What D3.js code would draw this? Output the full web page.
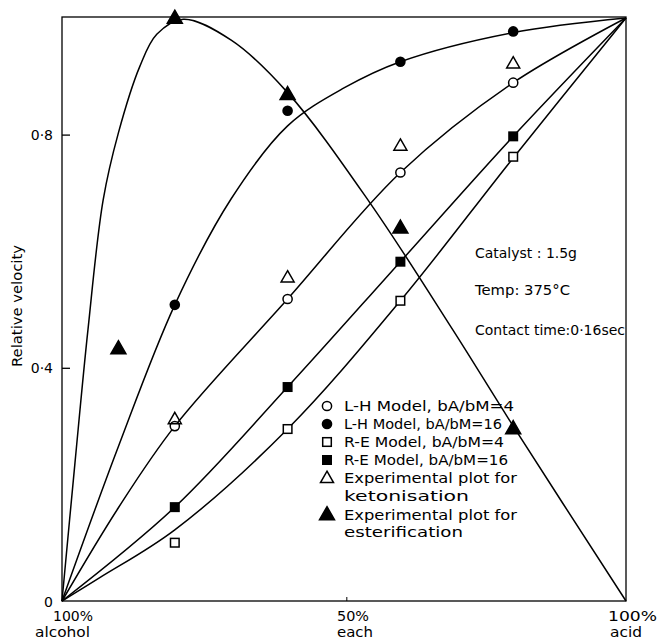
<!DOCTYPE html>
<html><head><meta charset="utf-8">
<script src="https://cdn.jsdelivr.net/npm/d3@7"></script>
<style>
html,body{margin:0;padding:0;background:#fff;}
text{font-family:"DejaVu Sans","Noto Sans",sans-serif;fill:#000;}
</style></head>
<body>
<svg id="c" width="657" height="641"></svg>
<script>
// ---- data ----
const yTicks = [0, 0.4, 0.8];
const yTickLabels = ["0", "0·4", "0·8"];
const xLabels = [["100%", "alcohol"], ["50%", "each"], ["100%", "acid"]];

// model / experimental points (x = fraction acid, y = relative velocity)
const lh4Pts  = [[0.2,0.30],[0.4,0.518],[0.6,0.735],[0.8,0.889]];
const lh16Pts = [[0.2,0.508],[0.4,0.841],[0.6,0.925],[0.8,0.977]];
const re4Pts  = [[0.2,0.10],[0.4,0.295],[0.6,0.515],[0.8,0.762]];
const re16Pts = [[0.2,0.161],[0.4,0.367],[0.6,0.582],[0.8,0.797]];
const ketoPts = [[0.2,0.312],[0.4,0.555],[0.6,0.781],[0.8,0.922]];
const esterPts= [[0.1,0.433],[0.2,1.0],[0.4,0.869],[0.6,0.64],[0.8,0.296]];

// drawn curves
const lh4Curve  = [[0,0],[0.1,0.16],[0.2,0.30],[0.4,0.518],[0.6,0.735],[0.8,0.889],[1,1]];
const lh16Curve = [[0,0],[0.1,0.265],[0.2,0.508],[0.3,0.69],[0.4,0.815],[0.5,0.88],[0.6,0.925],[0.8,0.975],[1,1]];
const re4Curve  = [[0,0],[0.067,0.04],[0.2,0.122],[0.4,0.295],[0.6,0.515],[0.8,0.76],[1,1]];
const re16Curve = [[0,0],[0.2,0.161],[0.4,0.367],[0.6,0.582],[0.8,0.797],[1,1]];
const esterCurve= [[0,0],[0.023,0.237],[0.046,0.465],[0.073,0.688],[0.1,0.803],[0.138,0.917],[0.168,0.972],[0.215,0.998],[0.3,0.962],[0.4,0.872],[0.546,0.683],[0.693,0.465],[0.8,0.30],[1,0]];

const legendItems = [
  ["circleOpen", ["L-H Model, bA/bM=4"], [170]],
  ["circleFill", ["L-H Model, bA/bM=16"], [158]],
  ["squareOpen", ["R-E Model, bA/bM=4"], [160]],
  ["squareFill", ["R-E Model, bA/bM=16"], [164]],
  ["triOpen", ["Experimental plot for", "ketonisation"], [173,125]],
  ["triFill", ["Experimental plot for", "esterification"], [173,119]]
];
const notes = ["Catalyst : 1.5g", "Temp: 375°C", "Contact time:0·16sec"];

// ---- drawing ----
const svg = d3.select("#c");
const L = 62, R = 626, T = 17, B = 601;
const x = d3.scaleLinear().domain([0,1]).range([L,R]);
const y = d3.scaleLinear().domain([0,1]).range([B,18]);

// frame
svg.append("rect").attr("x",L).attr("y",T).attr("width",R-L).attr("height",B-T)
  .attr("fill","none").attr("stroke","#000").attr("stroke-width",1.3);

// y axis ticks (inside)
const yAxis = d3.axisRight(y).tickValues(yTicks.slice(1)).tickSize(8).tickFormat("");
svg.append("g").attr("transform",`translate(${L},0)`).call(yAxis)
  .call(g=>g.select(".domain").remove())
  .call(g=>g.selectAll("line").attr("stroke","#000").attr("stroke-width",1.3));
yTicks.forEach((v,i)=>{
  svg.append("text").attr("x",53).attr("y",v===0?607:y(v)+5).attr("text-anchor","end")
    .attr("font-size",14).text(yTickLabels[i]);
});
// small x tick at 50%
svg.append("line").attr("x1",x(0.505)).attr("x2",x(0.505)).attr("y1",B).attr("y2",B-4)
  .attr("stroke","#000").attr("stroke-width",1);

// y label
svg.append("text").attr("transform",`translate(22,306) rotate(-90)`).attr("text-anchor","middle")
  .attr("font-size",14).attr("textLength",122).attr("lengthAdjust","spacingAndGlyphs").text("Relative velocity");

// x labels: [x1, width1, x2, width2]
const xl = [[53,40,35,55],[337,32,337,36],[608,49,610,32]];
xLabels.forEach((lab,i)=>{
  svg.append("text").attr("x",xl[i][0]).attr("y",621).attr("font-size",14)
    .attr("textLength",xl[i][1]).attr("lengthAdjust","spacingAndGlyphs").text(lab[0]);
  svg.append("text").attr("x",xl[i][2]).attr("y",637).attr("font-size",14)
    .attr("textLength",xl[i][3]).attr("lengthAdjust","spacingAndGlyphs").text(lab[1]);
});

// curves
const line = d3.line().x(d=>x(d[0])).y(d=>y(d[1])).curve(d3.curveCatmullRom.alpha(0.5));
[lh4Curve,lh16Curve,re4Curve,re16Curve,esterCurve].forEach(c=>{
  svg.append("path").attr("d",line(c)).attr("fill","none").attr("stroke","#000").attr("stroke-width",1.5);
});

// markers
function marker(g, type, cx, cy){
  const sw = 1.5;
  if(type==="circleOpen") g.append("circle").attr("cx",cx).attr("cy",cy).attr("r",4.6).attr("fill","#fff").attr("stroke","#000").attr("stroke-width",sw);
  if(type==="circleFill") g.append("circle").attr("cx",cx).attr("cy",cy).attr("r",5.3).attr("fill","#000");
  if(type==="squareOpen") g.append("rect").attr("x",cx-4.3).attr("y",cy-4.3).attr("width",8.6).attr("height",8.6).attr("fill","#fff").attr("stroke","#000").attr("stroke-width",sw);
  if(type==="squareFill") g.append("rect").attr("x",cx-5).attr("y",cy-5).attr("width",10).attr("height",10).attr("fill","#000");
  if(type==="triOpen"||type==="triFill"){
    const s = type==="triFill"?15:13, h = s*0.87;
    const p = [[cx,cy-h*0.6],[cx+s/2,cy+h*0.4],[cx-s/2,cy+h*0.4]];
    g.append("path").attr("d","M"+p.map(d=>d.join(",")).join("L")+"Z")
      .attr("fill",type==="triFill"?"#000":"none").attr("stroke","#000").attr("stroke-width",sw).attr("stroke-linejoin","miter");
  }
}
const mg = svg.append("g");
[[lh4Pts,"circleOpen"],[lh16Pts,"circleFill"],[re4Pts,"squareOpen"],[re16Pts,"squareFill"],[ketoPts,"triOpen"],[esterPts,"triFill"]]
  .forEach(([pts,t])=>pts.forEach(d=>marker(mg,t,x(d[0]),y(d[1]))));

// legend
let ly = 406;
legendItems.forEach(([t,lines,widths])=>{
  marker(svg,t,327,ly);
  lines.forEach((s,j)=>{
    svg.append("text").attr("x",344).attr("y",ly+5+j*17.5).attr("font-size",14.5)
      .attr("textLength",widths[j]).attr("lengthAdjust","spacingAndGlyphs").text(s);
  });
  ly += 18*lines.length + (lines.length>1?0.5:0);
});

// notes
const noteW = [102,95,150];
[253,290,330].forEach((yy,i)=>{
  svg.append("text").attr("x",475).attr("y",yy+5).attr("font-size",14.5)
    .attr("textLength",noteW[i]).attr("lengthAdjust","spacingAndGlyphs").text(notes[i]);
});
</script>
</body></html>
